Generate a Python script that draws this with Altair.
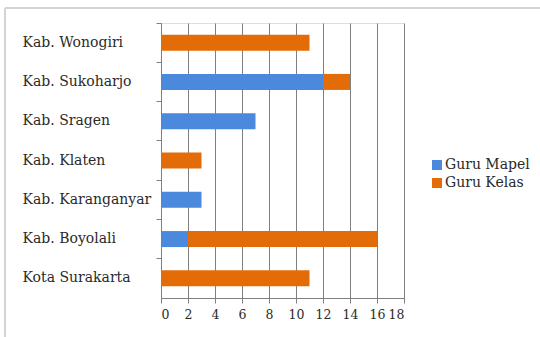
import altair as alt
import pandas as pd

regions = ["Kab. Wonogiri", "Kab. Sukoharjo", "Kab. Sragen", "Kab. Klaten",
           "Kab. Karanganyar", "Kab. Boyolali", "Kota Surakarta"]
guru_mapel = [0, 12, 7, 0, 3, 2, 0]
guru_kelas = [11, 2, 0, 3, 0, 14, 11]
series = ["Guru Mapel", "Guru Kelas"]
colors = ["#4a89dc", "#e36c09"]
x_ticks = list(range(0, 19, 2))

rows = []
for r, m, k in zip(regions, guru_mapel, guru_kelas):
    if m:
        rows.append({"region": r, "series": "Guru Mapel", "value": m, "ord": 0})
    if k:
        rows.append({"region": r, "series": "Guru Kelas", "value": k, "ord": 1})
df = pd.DataFrame(rows)

FONT = "DejaVu Serif"

bars = alt.Chart(df).mark_bar(size=16).encode(
    y=alt.Y("region:N", sort=regions, title=None,
            scale=alt.Scale(paddingInner=0, paddingOuter=0),
            axis=alt.Axis(bandPosition=0, ticks=True, tickSize=5, tickColor="#808080",
                          domainColor="#808080", labelFontSize=14, labelFont=FONT,
                          labelColor="#2a2a2a", labelPadding=134, labelAlign="left",
                          grid=False)),
    x=alt.X("value:Q", stack="zero", title=None,
            scale=alt.Scale(domain=[0, 18], nice=False),
            axis=alt.Axis(values=x_ticks, grid=True, gridColor="#7f7f7f", gridWidth=1,
                          gridOpacity=1, tickColor="#808080", tickSize=5,
                          domainColor="#808080", labelFontSize=12.5, labelFont=FONT,
                          labelColor="#2a2a2a", labelPadding=5, labelOverlap=False)),
    color=alt.Color("series:N", sort=series,
                    scale=alt.Scale(domain=series, range=colors),
                    legend=alt.Legend(title=None, orient="none", legendX=269, legendY=135,
                                      symbolType="square", symbolSize=100,
                                      symbolStrokeWidth=0, labelFont=FONT,
                                      labelFontSize=14, labelColor="#2a2a2a",
                                      rowPadding=4, labelOffset=1)),
    order=alt.Order("ord:Q"),
)

border_data = alt.Data(values=[{}])
top_line = alt.Chart(border_data).mark_rule(color="#d4d4d4", strokeWidth=2).encode(
    x=alt.value(-156), x2=alt.value(379), y=alt.value(-15))
left_line = alt.Chart(border_data).mark_rule(color="#d4d4d4", strokeWidth=2).encode(
    x=alt.value(-156), y=alt.value(-15), y2=alt.value(314))

chart = alt.layer(top_line, left_line, bars).properties(
    width=243, height=275,
    autosize=alt.AutoSizeParams(type="none"),
    padding={"left": 161, "top": 23, "right": 136, "bottom": 39},
    background="white",
).configure_view(stroke=None).configure(font=FONT)

chart.save("out.html", embed_options={"renderer": "svg", "actions": False})
